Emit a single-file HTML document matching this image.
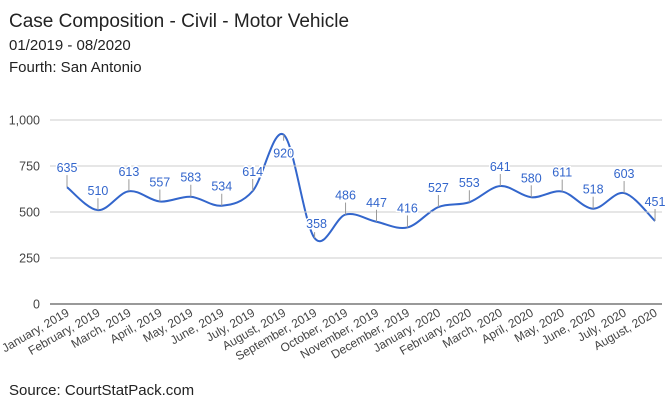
<!DOCTYPE html>
<html><head><meta charset="utf-8"><style>
body{margin:0;background:#fff;width:671px;height:406px;overflow:hidden;font-family:"Liberation Sans",Arial,sans-serif}
</style></head><body>
<svg id="s" width="671" height="406" xmlns="http://www.w3.org/2000/svg" font-family="Liberation Sans, Arial, sans-serif">
<text x="9" y="27" font-size="19" fill="#222">Case Composition - Civil - Motor Vehicle</text>
<text x="9" y="50" font-size="15" fill="#222">01/2019 - 08/2020</text>
<text x="9" y="72" font-size="15" fill="#222">Fourth: San Antonio</text>
<text x="9" y="395" font-size="15" fill="#222">Source: CourtStatPack.com</text>
<g id="g"></g>
</svg>
<script>
var v=[635,510,613,557,583,534,614,920,358,486,447,416,527,553,641,580,611,518,603,451];
var n=["January, 2019","February, 2019","March, 2019","April, 2019","May, 2019","June, 2019","July, 2019","August, 2019","September, 2019","October, 2019","November, 2019","December, 2019","January, 2020","February, 2020","March, 2020","April, 2020","May, 2020","June, 2020","July, 2020","August, 2020"];
var g=document.getElementById('g'),h='';
function Y(a){return 304-a*0.184}
function X(i){return 67+i*30.95}
[0,250,500,750,1000].forEach(function(t){var y=Y(t);
h+='<line x1="50" x2="662" y1="'+y+'" y2="'+y+'" stroke="'+(t?'#ccc':'#333')+'" stroke-width="1"/>';
h+='<text x="40" y="'+(y+4.5)+'" font-size="12.5" fill="#444" text-anchor="end">'+(t==1000?'1,000':t)+'</text>';});
var p=v.map(function(a,i){return [X(i),Y(a)]});
var d='M'+p[0][0]+','+p[0][1];
for(var i=0;i<p.length-1;i++){var p0=p[i-1]||p[i],p1=p[i],p2=p[i+1],p3=p[i+2]||p2;
d+=' C'+(p1[0]+(p2[0]-p0[0])/6)+','+(p1[1]+(p2[1]-p0[1])/6)+' '+(p2[0]-(p3[0]-p1[0])/6)+','+(p2[1]-(p3[1]-p1[1])/6)+' '+p2[0]+','+p2[1];}
p.forEach(function(q,i){
var ly=q[1]-15, lx=q[0];
if(i==7){ly=q[1]+23;}
if(i==8){ly=q[1]-10;lx=q[0]+2;}
if(i!=7&&i!=8)h+='<line x1="'+q[0]+'" x2="'+q[0]+'" y1="'+q[1]+'" y2="'+(q[1]-12)+'" stroke="#999"/>';
else h+='<line x1="'+q[0]+'" x2="'+q[0]+'" y1="'+q[1]+'" y2="'+(i==7?q[1]+6:q[1]-6)+'" stroke="#999"/>';
h+='<text x="'+lx+'" y="'+(ly)+'" font-size="12.5" fill="#3366cc" text-anchor="middle" stroke="#fff" stroke-width="3" paint-order="stroke">'+v[i]+'</text>';
h+='<text transform="translate('+(q[0]+3)+',315) rotate(-30)" font-size="12" fill="#444" text-anchor="end">'+n[i]+'</text>';
});
h='<path d="'+d+'" fill="none" stroke="#3366cc" stroke-width="2"/>'+h;
g.innerHTML=h;
</script>
</body></html>
